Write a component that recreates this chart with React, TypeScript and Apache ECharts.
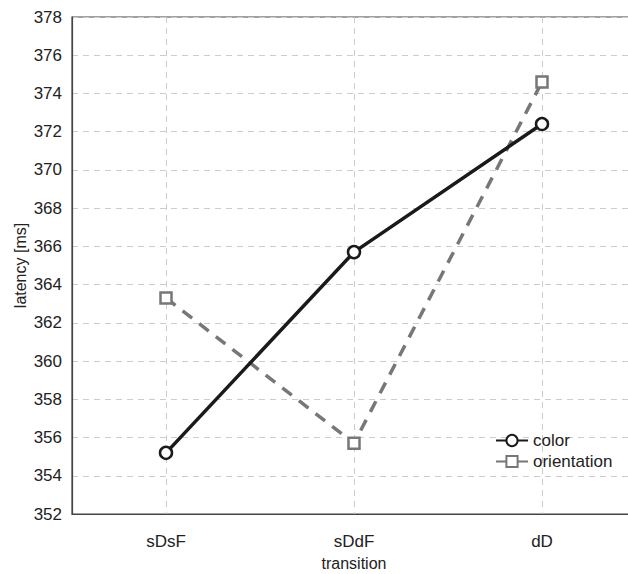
import React, { useEffect, useRef } from "react";
import * as echarts from "echarts";

const categories = ["sDsF", "sDdF", "dD"];
const colorValues = [355.2, 365.7, 372.4];
const orientationValues = [363.3, 355.7, 374.6];
const yMin = 352;
const yMax = 378;
const yInterval = 2;

export default function App() {
  const ref = useRef<HTMLDivElement>(null);
  useEffect(() => {
    if (!ref.current) return;
    const chart = echarts.init(ref.current, undefined, { renderer: "svg" });
    const font = "Liberation Sans, Arial, Helvetica, sans-serif";
    chart.setOption({
      animation: false,
      backgroundColor: "#ffffff",
      textStyle: { fontFamily: font },
      grid: {
        left: 72,
        right: 4,
        top: 17,
        bottom: 60,
        show: true,
        borderColor: "#444",
        borderWidth: 1.2,
        backgroundColor: "transparent",
        containLabel: false,
        outerBoundsMode: "none",
      },
      legend: {
        orient: "vertical",
        left: 490,
        top: 427,
        itemWidth: 32,
        itemHeight: 14,
        itemGap: 4,
        textStyle: { fontSize: 17, color: "#222", fontFamily: font },
        data: ["color", "orientation"],
      },
      xAxis: {
        type: "category",
        data: categories,
        boundaryGap: true,
        name: "transition",
        nameLocation: "middle",
        nameGap: 41,
        nameMoveOverlap: false,
        nameTextStyle: { fontSize: 16, color: "#222", fontFamily: font },
        axisLine: { show: true, lineStyle: { color: "#444", width: 1.2 } },
        axisTick: { show: false },
        axisLabel: { fontSize: 17, color: "#222", margin: 19, fontFamily: font },
        splitLine: {
          show: true,
          alignWithLabel: true,
          lineStyle: { color: "#cccccc", type: [6, 5], width: 1 },
        },
      },
      yAxis: {
        type: "value",
        min: yMin,
        max: yMax,
        interval: yInterval,
        name: "latency [ms]",
        nameLocation: "middle",
        nameGap: 44,
        nameMoveOverlap: false,
        nameTextStyle: { fontSize: 16, color: "#222", fontFamily: font },
        axisLine: { show: true, lineStyle: { color: "#444", width: 1.2 } },
        axisTick: { show: false },
        axisLabel: { fontSize: 17, color: "#222", margin: 10, fontFamily: font },
        splitLine: {
          show: true,
          lineStyle: { color: "#cccccc", type: [6, 5], width: 1 },
        },
      },
      series: [
        {
          name: "orientation",
          type: "line",
          data: orientationValues,
          symbol: "rect",
          symbolSize: 11,
          lineStyle: { color: "#777", width: 3.5, type: [12, 9] },
          itemStyle: { color: "#fff", borderColor: "#777", borderWidth: 2.5 },
          z: 2,
        },
        {
          name: "color",
          type: "line",
          data: colorValues,
          symbol: "circle",
          symbolSize: 12,
          lineStyle: { color: "#1a1a1a", width: 3.5 },
          itemStyle: { color: "#fff", borderColor: "#1a1a1a", borderWidth: 2.5 },
          z: 3,
        },
      ],
    });
    return () => chart.dispose();
  }, []);
  return (
    <div
      style={{
        position: "fixed",
        left: 0,
        top: 0,
        width: 628,
        height: 574,
        overflow: "hidden",
        background: "#fff",
      }}
    >
      <div ref={ref} style={{ width: 640, height: 574 }} />
    </div>
  );
}
